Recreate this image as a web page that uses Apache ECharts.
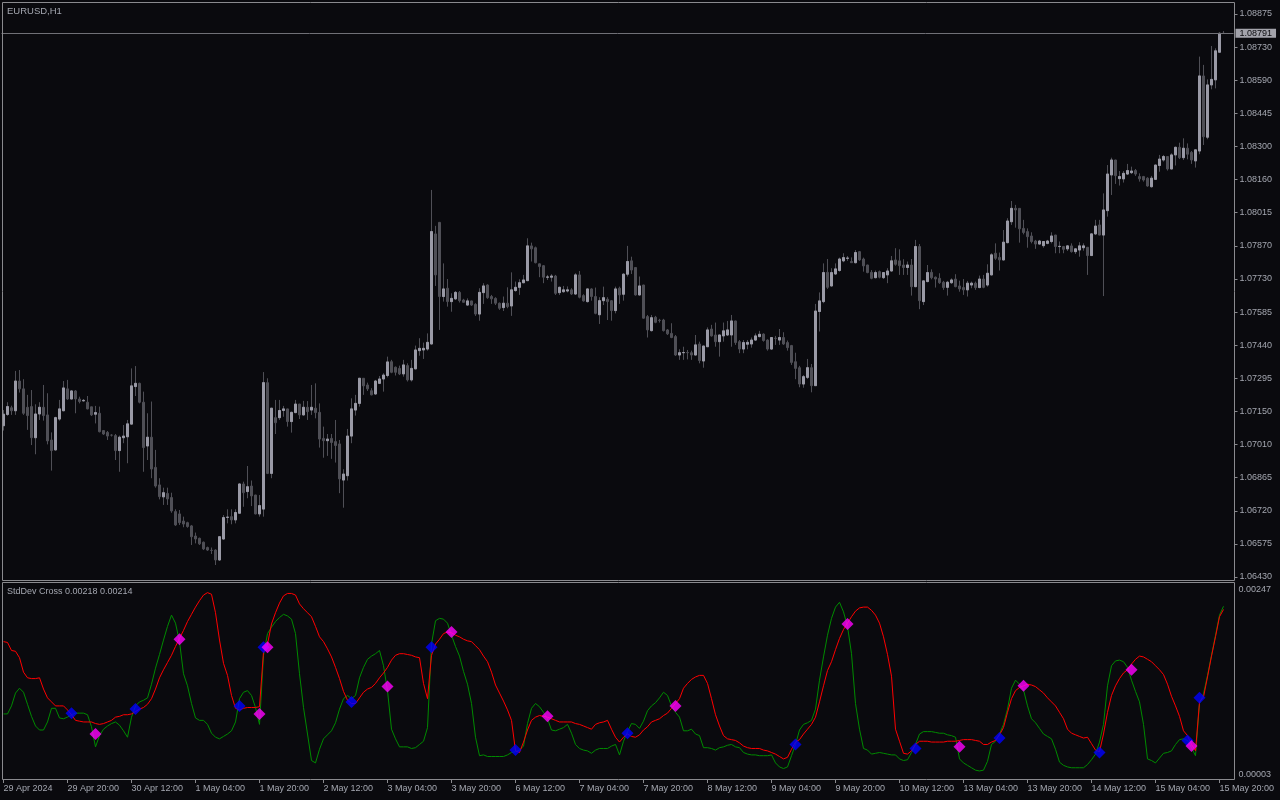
<!DOCTYPE html>
<html>
<head>
<meta charset="utf-8">
<script src="https://cdn.jsdelivr.net/npm/echarts@6/dist/echarts.min.js"></script>
<style>
html,body{margin:0;padding:0;background:#0a0a0e;}
#c{width:1280px;height:800px;}
</style>
</head>
<body>
<div id="c"></div>
<script>
// EURUSD H1 prices, stored in points above 1.06000 (price = 1.06 + pts / 100000)
const openPts = [
1087,1136,1165,1152,1281,1247,1167,1170,1035,1138,
1167,1134,1025,982,1116,1152,1247,1203,1238,1203,
1195,1189,1169,1137,1141,1066,1058,1046,1044,979,
1035,1039,1094,1257,1271,1189,999,1037,906,830,
778,793,775,714,704,673,666,652,608,598,
581,558,546,547,504,595,689,692,678,707,
834,801,825,786,704,725,1274,880,1122,1122,
1153,1160,1105,1144,1181,1134,1167,1155,1163,1145,
1032,1022,1032,1018,1008,851,870,1042,1155,1184,
1293,1264,1239,1225,1271,1290,1305,1365,1341,1336,
1312,1348,1286,1334,1413,1416,1420,1442,1920,1970,
1648,1684,1626,1638,1666,1633,1611,1629,1614,1572,
1665,1698,1648,1640,1619,1600,1619,1607,1674,1688,
1708,1717,1868,1860,1790,1782,1732,1732,1737,1665,
1669,1672,1677,1659,1742,1652,1626,1681,1648,1569,
1630,1636,1630,1587,1684,1658,1745,1803,1774,1655,
1698,1561,1500,1558,1545,1546,1503,1488,1474,1394,
1404,1405,1404,1394,1442,1368,1430,1507,1481,1452,
1477,1481,1481,1542,1452,1420,1441,1442,1459,1474,
1485,1459,1420,1467,1459,1470,1448,1435,1365,1339,
1268,1297,1339,1261,1583,1626,1753,1694,1746,1761,
1803,1814,1800,1795,1843,1811,1785,1753,1730,1756,
1730,1742,1759,1807,1803,1785,1774,1785,1691,1865,
1626,1713,1753,1732,1727,1710,1688,1708,1724,1694,
1687,1677,1698,1706,1687,1724,1698,1742,1836,1818,
1807,1882,1973,2031,2031,1944,1930,1911,1889,1876,
1869,1879,1887,1915,1865,1865,1855,1868,1843,1850,
1860,1862,1826,1920,1959,1915,2021,2176,2241,2160,
2159,2180,2186,2195,2169,2169,2162,2125,2157,2217,
2241,2256,2202,2263,2296,2251,2292,2274,2237,2280,
2606,2340,2567,2589,2709,2791];
const highPts = [
1155,1189,1174,1325,1329,1289,1221,1242,1180,1189,
1264,1228,1058,1126,1199,1281,1286,1242,1242,1213,
1203,1216,1170,1173,1170,1067,1064,1050,1051,1044,
1090,1112,1336,1346,1274,1235,1141,1192,982,859,
818,818,796,724,721,692,670,656,623,601,
584,562,558,550,608,699,724,724,724,837,
844,912,849,787,786,1320,1293,1164,1199,1199,
1173,1161,1148,1199,1182,1195,1194,1264,1271,1184,
1083,1051,1051,1112,1025,898,1073,1206,1221,1294,
1294,1274,1250,1286,1303,1315,1387,1373,1344,1348,
1373,1358,1373,1435,1467,1448,1488,2111,1955,1972,
1792,1724,1662,1672,1672,1638,1640,1630,1619,1684,
1706,1701,1655,1645,1622,1648,1688,1753,1713,1723,
1742,1901,1882,1865,1792,1785,1742,1745,1742,1691,
1694,1692,1684,1749,1759,1658,1682,1684,1687,1645,
1691,1645,1633,1691,1691,1749,1868,1821,1775,1735,
1699,1568,1568,1564,1551,1551,1507,1532,1481,1419,
1430,1416,1413,1481,1452,1434,1514,1525,1535,1482,
1535,1542,1568,1543,1459,1459,1459,1470,1488,1499,
1488,1462,1470,1477,1507,1493,1457,1438,1404,1347,
1307,1377,1355,1616,1666,1792,1811,1771,1792,1817,
1836,1824,1818,1850,1846,1817,1786,1763,1761,1761,
1753,1771,1824,1858,1853,1810,1800,1811,1894,1876,
1717,1785,1766,1735,1749,1716,1716,1727,1745,1717,
1724,1716,1713,1713,1739,1742,1788,1836,1879,1839,
1937,1988,2063,2046,2032,1981,1944,1927,1894,1894,
1889,1894,1927,1916,1887,1868,1872,1879,1858,1884,
1879,1862,1923,1981,1981,2096,2219,2251,2242,2193,
2193,2224,2212,2202,2183,2172,2166,2172,2220,2263,
2263,2256,2270,2299,2316,2335,2313,2280,2285,2690,
2654,2591,2736,2726,2796,2801];
const lowPts = [
1066,1130,1134,1134,1231,1134,1069,1003,963,1112,
1109,1006,892,979,1109,1150,1199,1202,1141,1184,
1192,1158,1129,1097,1058,1047,1025,1040,938,887,
1011,924,1092,1216,1184,887,938,859,818,767,
743,743,709,652,656,646,644,569,576,569,
547,543,530,482,500,592,663,659,663,705,
735,772,738,702,692,692,877,859,1051,1112,
1126,1083,1057,1141,1116,1131,1112,1134,1119,992,
948,956,943,927,794,731,849,1011,1131,1170,
1221,1238,1219,1221,1268,1235,1297,1315,1305,1307,
1300,1279,1279,1332,1391,1377,1413,1440,1694,1503,
1626,1604,1582,1633,1622,1622,1609,1607,1564,1543,
1616,1638,1616,1611,1590,1585,1597,1564,1669,1655,
1706,1715,1800,1792,1732,1706,1720,1713,1655,1655,
1665,1666,1655,1655,1640,1626,1622,1630,1571,1529,
1611,1546,1543,1575,1616,1630,1735,1746,1652,1652,
1552,1470,1496,1532,1535,1496,1481,1467,1390,1373,
1373,1375,1373,1392,1358,1339,1429,1474,1430,1387,
1452,1477,1430,1438,1402,1402,1419,1426,1455,1471,
1452,1413,1416,1438,1438,1438,1413,1351,1289,1254,
1252,1290,1232,1260,1496,1619,1681,1691,1742,1756,
1797,1803,1794,1792,1803,1756,1749,1723,1727,1727,
1724,1706,1756,1782,1742,1742,1742,1652,1688,1593,
1611,1710,1723,1687,1703,1677,1652,1703,1688,1669,
1655,1648,1684,1677,1684,1684,1691,1740,1807,1761,
1805,1879,1959,1947,1882,1918,1860,1879,1855,1875,
1860,1875,1879,1836,1836,1836,1846,1839,1833,1821,
1847,1742,1824,1915,1914,1650,1995,2089,2137,2130,
2143,2176,2180,2172,2147,2147,2125,2121,2154,2190,
2234,2195,2201,2217,2245,2241,2244,2224,2208,2266,
2306,2331,2548,2552,2707,2790];
const closePts = [
1137,1170,1152,1281,1247,1141,1131,1035,1138,1167,
1131,1021,979,1122,1160,1251,1203,1238,1203,1192,
1197,1160,1134,1144,1061,1051,1042,1046,979,1037,
1042,1095,1260,1271,1189,992,1037,899,825,779,
796,769,717,656,666,660,649,605,595,574,
552,547,545,504,605,688,690,678,710,834,
796,822,782,704,740,1274,880,1163,1100,1153,
1160,1105,1145,1181,1134,1167,1148,1167,1144,1029,
1022,1029,1014,1001,856,877,1042,1160,1184,1293,
1260,1247,1221,1281,1290,1307,1364,1319,1319,1312,
1351,1286,1336,1416,1423,1423,1449,1930,1742,1648,
1681,1626,1640,1666,1630,1623,1629,1611,1572,1666,
1694,1643,1638,1619,1597,1619,1604,1677,1688,1708,
1720,1868,1855,1795,1778,1732,1733,1737,1662,1688,
1677,1677,1659,1742,1645,1629,1681,1648,1575,1630,
1643,1626,1587,1681,1655,1745,1800,1763,1655,1694,
1554,1503,1556,1536,1544,1500,1486,1470,1394,1404,
1405,1404,1394,1438,1370,1433,1503,1477,1452,1481,
1499,1503,1542,1448,1420,1448,1449,1459,1477,1484,
1457,1420,1470,1466,1470,1442,1426,1362,1336,1268,
1300,1339,1261,1585,1629,1752,1688,1752,1768,1811,
1817,1815,1795,1839,1807,1781,1752,1727,1752,1732,
1752,1759,1803,1788,1782,1774,1785,1691,1865,1630,
1716,1752,1730,1724,1708,1687,1710,1720,1691,1681,
1677,1706,1706,1687,1724,1688,1749,1829,1814,1807,
1884,1976,2031,2024,1942,1926,1908,1887,1876,1889,
1887,1889,1911,1865,1866,1853,1868,1843,1855,1868,
1868,1826,1920,1954,1915,2024,2180,2241,2173,2169,
2183,2195,2193,2180,2159,2154,2128,2162,2219,2245,
2256,2202,2263,2296,2251,2292,2266,2241,2285,2606,
2342,2567,2591,2715,2791,2791];

// Price scale tick labels (bottom to top)
const priceTickLabels = ['1.06430','1.06575','1.06720','1.06865','1.07010','1.07150','1.07295','1.07440','1.07585',
  '1.07730','1.07870','1.08015','1.08160','1.08300','1.08445','1.08590','1.08730','1.08875'];
// Time axis labels, one every 16 bars
const timeTickLabels = ['29 Apr 2024','29 Apr 20:00','30 Apr 12:00','1 May 04:00','1 May 20:00','2 May 12:00',
  '3 May 04:00','3 May 20:00','6 May 12:00','7 May 04:00','7 May 20:00','8 May 12:00','9 May 04:00',
  '9 May 20:00','10 May 12:00','13 May 04:00','13 May 20:00','14 May 12:00','15 May 04:00','15 May 20:00'];

// StdDev Cross indicator buffers, in units of 0.00001
const stdGreen = [
84,84,94,110,116,111,96,81,69,64,
64,74,91,91,79,78,80,83,85,85,
85,83,68,43,57,65,69,72,74,70,
63,55,80,94,99,101,104,121,141,158,
176,193,207,197,174,134,119,97,79,76,
76,71,60,55,53,56,59,63,74,103,
111,113,107,92,71,157,184,192,199,204,
208,206,202,184,134,92,59,26,23,40,
53,58,63,73,90,103,107,103,107,129,
142,152,156,159,163,144,113,65,53,43,
43,43,41,42,46,50,67,171,200,203,
202,197,182,168,156,137,121,97,55,32,
33,31,31,31,31,31,33,36,37,39,
44,72,91,97,93,86,78,64,63,65,
67,71,60,46,41,39,38,35,39,41,
41,41,44,46,33,50,62,72,71,66,
75,88,94,98,104,111,107,94,86,80,
63,63,65,59,57,42,42,41,39,42,
43,45,46,43,42,36,34,33,33,32,
32,32,33,23,18,16,18,32,46,64,
71,73,76,90,126,155,182,203,217,223,
211,193,159,97,65,41,39,34,35,36,
35,34,33,33,28,26,27,36,46,59,
62,62,62,61,60,60,58,57,55,28,
23,20,17,14,13,14,25,46,50,59,
71,90,116,126,121,114,94,78,73,66,
59,56,53,40,24,20,18,17,17,17,
17,21,27,34,49,71,119,144,150,151,
149,142,126,112,99,71,28,26,23,29,
35,36,38,46,52,53,51,42,32,97,
109,132,157,182,207,218];
const stdRed = [
174,173,163,162,154,136,129,128,128,129,
115,104,99,94,94,94,89,83,76,75,
74,74,74,72,71,72,74,76,80,81,
83,83,84,87,90,92,96,103,115,129,
139,148,157,168,178,188,199,208,217,225,
232,235,233,210,176,147,132,107,91,89,
91,92,92,92,93,161,171,196,210,222,
231,234,234,232,221,215,210,205,193,180,
174,165,155,142,128,112,101,97,97,104,
111,115,117,122,129,135,142,151,157,159,
159,158,157,155,154,122,103,157,171,177,
184,186,185,182,180,177,175,174,169,164,
156,149,136,120,110,100,89,76,38,36,
49,64,76,80,82,81,80,78,76,74,
74,74,74,72,71,69,67,65,71,73,
74,76,65,55,49,55,59,56,55,58,
64,68,74,76,78,82,85,91,97,103,
116,122,127,130,132,132,122,103,83,69,
57,53,52,51,48,44,42,41,41,41,
39,38,36,34,31,28,30,40,49,52,
59,65,71,80,99,119,138,149,164,178,
189,197,205,212,216,217,217,213,207,197,
180,158,131,65,50,35,34,38,46,50,
50,50,49,49,49,49,50,50,50,51,
52,52,52,51,50,46,46,49,51,58,
67,86,103,113,117,119,121,120,118,114,
110,104,99,94,86,78,65,60,58,56,
54,55,47,39,37,59,86,107,119,128,
135,139,146,152,156,155,152,149,144,139,
133,121,106,94,81,63,57,46,38,99,
105,130,156,180,205,214];

// Cross markers: bar index and value (units of 0.00001)
const blueIdx = [17,33,59,65,87,107,128,156,198,228,249,274,296,299];
const blueVal = [85,90,94,167,99,167,39,60,46,41,54,36,51,104];
const magentaIdx = [23,44,64,66,96,112,136,168,211,239,255,282,297];
const magentaVal = [59,177,84,167,118,186,81,94,196,43,119,139,44];

// ---------------------------------------------------------------
const N = closePts.length;
if ([openPts, highPts, lowPts, stdGreen, stdRed].some(a => a.length !== N)) console.error('length mismatch');
const NCAT = N + 2;
const cats = Array.from({length: NCAT}, (_, i) => String(i));
const PMIN = 430, PMAX = 2875, PSTEP = (PMAX - PMIN) / 17;
const fmtPrice = p => (1.06 + p / 100000).toFixed(5);
const fmtStd = v => (v / 100000).toFixed(5);

const FONT = '"Liberation Sans", Arial, sans-serif';
const TXT = '#a4a7b0';
const FRAME = '#8a8a8e';
const DARK = '#4f4f56';
const LIGHT = '#9a9aa6';

const allCandles = closePts.map((c, i) => [openPts[i], c, lowPts[i], highPts[i]]);
const bullBodies = closePts.map((c, i) => c > openPts[i] ? [openPts[i], c, openPts[i], c] : ['-', '-', '-', '-']);
const lastClose = closePts[N - 1];

const tickInt = (i) => i % 16 === 0 && i / 16 < timeTickLabels.length;

const chart = echarts.init(document.getElementById('c'), null, {renderer: 'canvas', width: 1280, height: 800});
chart.setOption({
  animation: false,
  backgroundColor: '#0a0a0e',
  title: [
    {text: 'EURUSD,H1', left: 7, top: 5.5, padding: 0,
     textStyle: {color: TXT, fontSize: 9.5, fontWeight: 'normal', fontFamily: FONT, lineHeight: 11}},
    {text: 'StdDev Cross ' + fmtStd(stdGreen[N - 1]) + ' ' + fmtStd(stdRed[N - 1]), left: 7, top: 586.5, padding: 0,
     textStyle: {color: TXT, fontSize: 9, fontWeight: 'normal', fontFamily: FONT, lineHeight: 11}}
  ],
  grid: [
    {left: 1.5, top: 14, width: 1232, height: 563, outerBoundsMode: 'none', containLabel: false},
    {left: 1.5, top: 583, width: 1232, height: 196, outerBoundsMode: 'none', containLabel: false}
  ],
  xAxis: [
    {type: 'category', gridIndex: 0, data: cats, boundaryGap: true, show: false},
    {type: 'category', gridIndex: 1, data: cats, boundaryGap: true, position: 'bottom',
     axisLine: {show: false},
     axisTick: {show: true, alignWithLabel: true, interval: tickInt, length: 4, lineStyle: {color: FRAME}},
     axisLabel: {show: true, interval: tickInt, formatter: (v, i) => timeTickLabels[i / 16], align: 'left',
                 margin: 5, color: TXT, fontSize: 9, fontFamily: FONT, hideOverlap: false},
     splitLine: {show: false}}
  ],
  yAxis: [
    {type: 'value', gridIndex: 0, position: 'right', offset: 1, min: PMIN, max: PMAX, interval: PSTEP,
     axisLine: {show: false}, splitLine: {show: false},
     axisTick: {show: true, length: 3, lineStyle: {color: FRAME}},
     axisLabel: {show: true, margin: 5, color: TXT, fontSize: 9, fontFamily: FONT, showMinLabel: true, showMaxLabel: true,
                 formatter: v => priceTickLabels[Math.round((v - PMIN) / PSTEP)]}},
    {type: 'value', gridIndex: 1, position: 'right', offset: 1, min: 3, max: 247, interval: 244,
     axisLine: {show: false}, splitLine: {show: false}, axisTick: {show: false},
     axisLabel: {show: true, margin: 4, color: TXT, fontSize: 9, fontFamily: FONT, showMinLabel: false, showMaxLabel: true,
                 verticalAlign: 'top', padding: [2, 0, 0, 0], formatter: fmtStd}},
    {type: 'value', gridIndex: 1, position: 'right', offset: 1, min: 3, max: 247, interval: 244,
     axisLine: {show: false}, splitLine: {show: false}, axisTick: {show: false},
     axisLabel: {show: true, margin: 4, color: TXT, fontSize: 9, fontFamily: FONT, showMinLabel: true, showMaxLabel: false,
                 verticalAlign: 'bottom', formatter: fmtStd}}
  ],
  series: [
    {type: 'candlestick', name: 'all', xAxisIndex: 0, yAxisIndex: 0, data: allCandles, barWidth: 2, z: 2,
     silent: true,
     itemStyle: {color: DARK, color0: DARK, borderColor: DARK, borderColor0: DARK, borderColorDoji: DARK, borderWidth: 1},
     markLine: {silent: true, symbol: ['none', 'none'], animation: false,
       lineStyle: {color: '#707076', width: 1, type: 'solid'},
       label: {show: true, position: 'end', distance: 2, formatter: () => fmtPrice(lastClose),
               backgroundColor: '#a3a3ab', color: '#0a0a0e', padding: [0, 4, 0, 4], lineHeight: 9,
               fontSize: 9, fontFamily: FONT},
       emphasis: {disabled: true},
       data: [{yAxis: lastClose}]}},
    {type: 'candlestick', name: 'bull', xAxisIndex: 0, yAxisIndex: 0, data: bullBodies, barWidth: 2, z: 3,
     silent: true,
     itemStyle: {color: LIGHT, color0: LIGHT, borderColor: LIGHT, borderColor0: LIGHT, borderColorDoji: LIGHT, borderWidth: 1}},
    {type: 'line', xAxisIndex: 1, yAxisIndex: 1, data: stdGreen, showSymbol: false, symbol: 'none', z: 2,
     lineStyle: {color: '#008a00', width: 1}, silent: true},
    {type: 'line', xAxisIndex: 1, yAxisIndex: 1, data: stdRed, showSymbol: false, symbol: 'none', z: 3,
     lineStyle: {color: '#ff0000', width: 1}, silent: true},
    {type: 'scatter', xAxisIndex: 1, yAxisIndex: 1, symbol: 'diamond', symbolSize: 12, z: 4, silent: true,
     itemStyle: {color: '#0000ff'}, data: blueIdx.map((x, k) => [x, blueVal[k]])},
    {type: 'scatter', xAxisIndex: 1, yAxisIndex: 1, symbol: 'diamond', symbolSize: 12, z: 5, silent: true,
     itemStyle: {color: '#ff00ff'}, data: magentaIdx.map((x, k) => [x, magentaVal[k]])}
  ],
  graphic: [
    {type: 'rect', silent: true, z: 100, shape: {x: 2.5, y: 2.5, width: 1232, height: 578},
     style: {fill: null, stroke: FRAME, lineWidth: 1}},
    {type: 'rect', silent: true, z: 100, shape: {x: 2.5, y: 582.5, width: 1232, height: 197},
     style: {fill: null, stroke: FRAME, lineWidth: 1}}
  ]
});
</script>
</body>
</html>
